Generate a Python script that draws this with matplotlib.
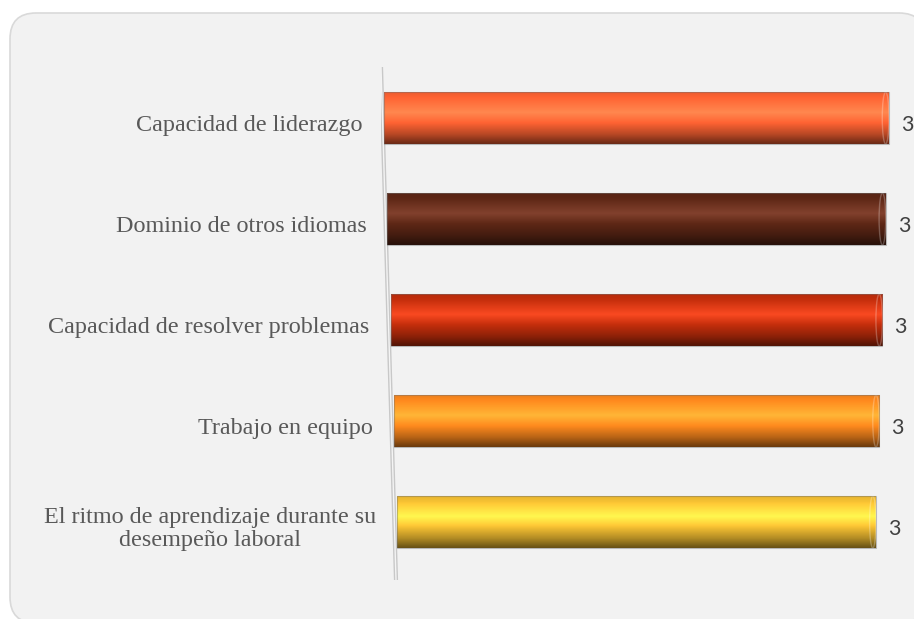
import numpy as np
import matplotlib
matplotlib.use('Agg')
import matplotlib.pyplot as plt
import matplotlib.transforms as mtransforms
from matplotlib.patches import FancyBboxPatch, Rectangle, Ellipse
from matplotlib.colors import to_rgb

# datos
categorias = ['Capacidad de liderazgo',
              'Dominio de otros idiomas',
              'Capacidad de resolver problemas',
              'Trabajo en equipo',
              'El ritmo de aprendizaje durante su\ndesempeño laboral']
valores = [3, 3, 3, 3, 3]
colores = ['#FF6333', '#5E2716', '#C42E0C', '#FF8A1E', '#F7C233']

W, H = 914, 619
fig = plt.figure(figsize=(W / 100, H / 100), dpi=100)
fig.patch.set_facecolor('white')
px = mtransforms.Affine2D().scale(1 / W, 1 / H) + fig.transFigure

# marco redondeado de fondo
fondo = FancyBboxPatch((10, -4), 915, H - 13 + 4, boxstyle='round,pad=0,rounding_size=26',
                       transform=px, facecolor='#F2F2F2', edgecolor='#D9D9D9', lw=1.2,
                       zorder=-10)
fig.patches.append(fondo)

ax_l, ax_r, ax_t, ax_b = 381, 900, 67, 580
ax = fig.add_axes([ax_l / W, (H - ax_b) / H, (ax_r - ax_l) / W, (ax_b - ax_t) / H])
ax.set_facecolor('none')
xmax = 3.065
u = (ax_r - ax_l) / xmax   # pixeles por unidad

n = len(valores)
ypos = np.arange(n)
alto = 0.515
ylim = (n - 1 + 0.574, -0.505)

# perfil de sombreado del cilindro (arriba -> abajo)
t_st = [0.0, 0.12, 0.40, 0.60, 0.82, 1.0]
l_st = [-0.08, 0.0, 0.30, 0.0, -0.28, -0.58]


def gradiente(color):
    base = np.array(to_rgb(color))
    t = np.linspace(0, 1, 80)
    l = np.interp(t, t_st, l_st)
    out = []
    for v in l:
        if v >= 0:
            c = np.clip(base * (1 + 0.9 * v), 0, 1)
            c = c + (1 - c) * 0.25 * v
        else:
            c = base * (1 + v)
        out.append(c)
    return np.clip(np.array(out), 0, 1)[:, None, :]


txt_tr = mtransforms.offset_copy(ax.transData, fig=fig, x=0, y=-7, units='dots')
off0 = 3 / u
paso = 3.25 / u
for i, (v, c) in enumerate(zip(valores, colores)):
    tx = off0 + paso * i
    sx = (v - 2 * paso * i - off0) / v
    tr = mtransforms.Affine2D().scale(sx, 1).translate(tx, 0) + ax.transData
    y0, y1 = ypos[i] - alto / 2, ypos[i] + alto / 2
    im = ax.imshow(gradiente(c), extent=(0, v, y1, y0), aspect='auto',
                   interpolation='bilinear', transform=tr, zorder=2)
    clip = Rectangle((0, y0), v, alto, transform=tr, facecolor='none', edgecolor='none')
    ax.add_patch(clip)
    im.set_clip_path(clip)
    # tapa del extremo
    ax.add_patch(Ellipse((v - 0.02, ypos[i]), 0.04, alto, transform=tr,
                         facecolor='none', edgecolor=(1, 1, 1, 0.25), lw=1, zorder=3))
    ax.add_patch(Rectangle((0, y0), v, alto, transform=tr, facecolor='none',
                           edgecolor=(0.45, 0.45, 0.45, 0.45), lw=0.8, zorder=3))
    # etiqueta de categoria
    ax.text(tx - 21 / u, ypos[i], categorias[i], transform=txt_tr,
            ha='right', va='center', multialignment='center',
            fontsize=17.4, family='Liberation Serif', color='#595959', linespacing=1.15)
    # valor
    ax.text(tx + v * sx + 12 / u, ypos[i], str(v), transform=txt_tr,
            ha='left', va='center', fontsize=15.5, family='Lato', color='#404040',
            clip_on=False)

# eje vertical inclinado
ax.plot([0, 15 / u], [ylim[1], ylim[0]], color='#C8C8C8', lw=3, solid_capstyle='round', zorder=1)
ax.plot([0, 15 / u], [ylim[1], ylim[0]], color='#F4F4F4', lw=1, zorder=1)

ax.set_xlim(0, xmax)
ax.set_ylim(*ylim)
ax.axis('off')

fig.savefig('out.png', dpi=100)
